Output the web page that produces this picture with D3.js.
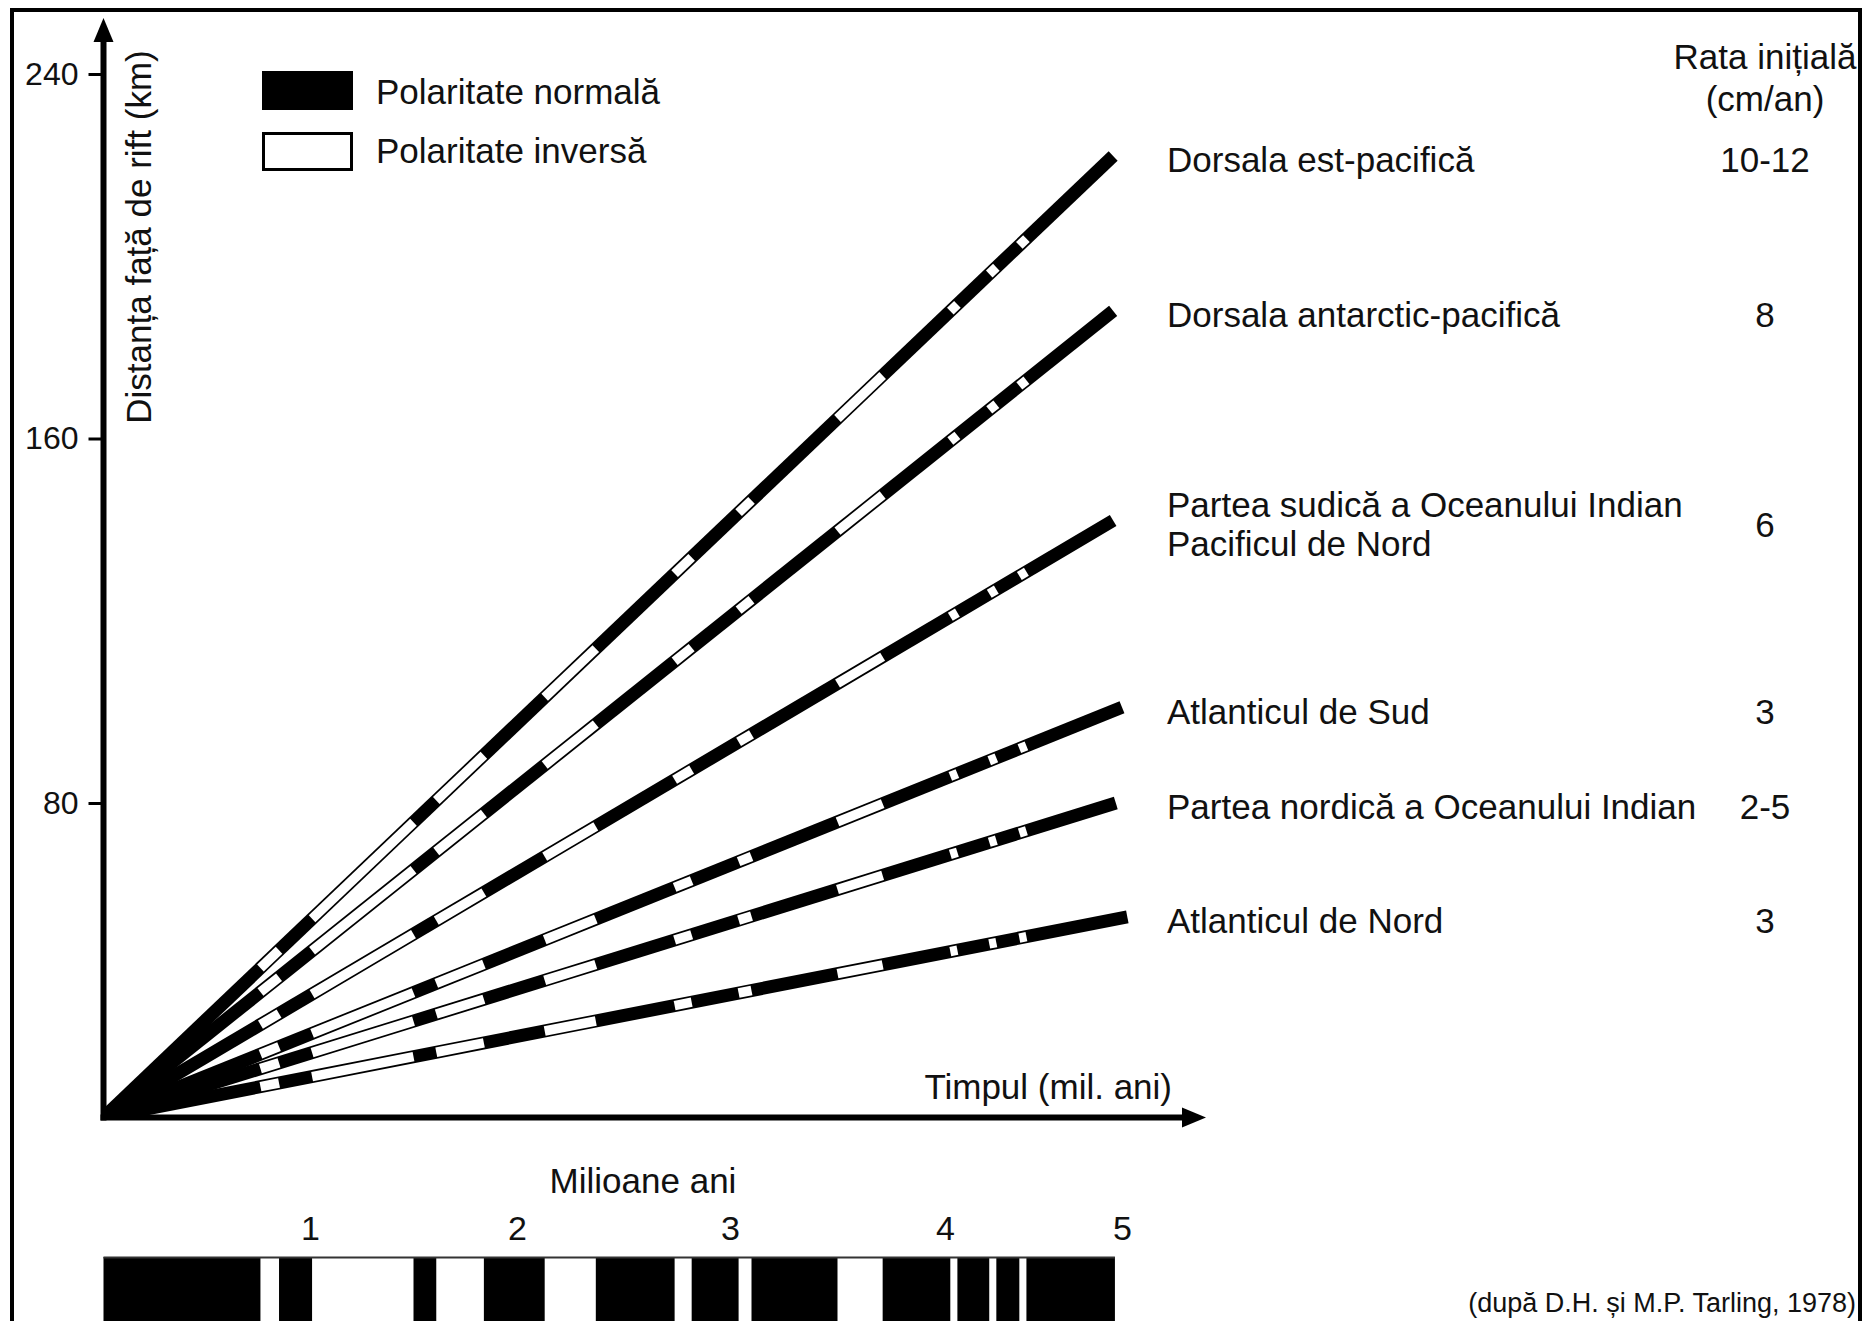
<!DOCTYPE html>
<html lang="ro">
<head>
<meta charset="UTF-8">
<title>Distanța față de rift</title>
<script src="https://cdn.jsdelivr.net/npm/d3@7"></script>
<style>
    body { margin: 0; background: #fff; }
    svg text { font-family: "Liberation Sans", Arial, Helvetica, sans-serif; fill: #111; }
    .axis path { display: none; }
    .axis line { stroke: #000; stroke-width: 3; }
    .axis text { font-size: 32px; fill: #111; }
    .taxis text { font-size: 34px; fill: #111; }
    .lbl { font-size: 35px; }
</style>
</head>
<body>
<script>
const width = 1866, height = 1321;

// valori
const ridgeNames = [
    ['Dorsala est-pacifică'],
    ['Dorsala antarctic-pacifică'],
    ['Partea sudică a Oceanului Indian', 'Pacificul de Nord'],
    ['Atlanticul de Sud'],
    ['Partea nordică a Oceanului Indian'],
    ['Atlanticul de Nord']
];
const ridgeRates = ['10-12', '8', '6', '3', '2-5', '3'];
const endTime = [4.95, 4.95, 4.95, 5.0, 4.965, 5.03];     // mil. ani
const endDistance = [222, 188, 142, 101, 80, 55];          // km
const originKm = 11;                                        // axa orizontala taie axa Y aici
const distTicks = [80, 160, 240];
const timeTicks = [1, 2, 3, 4, 5];
// intervale cu polaritate inversa (mil. ani)
const reversed = [[0.76, 0.85], [1.01, 1.50], [1.61, 1.84], [2.13, 2.37], [2.74, 2.82],
                  [3.04, 3.10], [3.50, 3.71], [4.03, 4.07], [4.25, 4.29], [4.42, 4.46]];
const barEnd = 4.96;

let svg = d3.select('body').append('svg')
    .attr('width', width)
    .attr('height', height);

// scari
let x = d3.scaleLinear()
    .domain([0, 1, 2, 3, 4, 5])
    .range([103.5, 310, 517, 730, 945, 1122]);
let y = d3.scaleLinear()
    .domain([0, 240])
    .range([1167.5, 74]);

let x0 = x(0), y0 = y(originKm);

// chenar
svg.append('rect')
    .attr('x', 12).attr('y', 10)
    .attr('width', 1848).attr('height', 1400)
    .attr('fill', 'none').attr('stroke', '#000').attr('stroke-width', 4);

// linii (benzi) pentru fiecare dorsala
svg.append('clipPath').attr('id', 'plot')
    .append('rect').attr('x', x0).attr('y', 0).attr('width', 1200).attr('height', y0);

let bands = svg.append('g').attr('clip-path', 'url(#plot)');

ridgeNames.forEach(function (name, i) {
    let xe = x(endTime[i]), ye = y(endDistance[i]);
    function pt(t) {
        let u = (x(t) - x0) / (xe - x0);
        return [x(t), y0 + u * (ye - y0)];
    }
    let a = pt(0), b = pt(endTime[i]);
    bands.append('line')
        .attr('x1', a[0]).attr('y1', a[1]).attr('x2', b[0]).attr('y2', b[1])
        .attr('stroke', '#000').attr('stroke-width', 13);
    reversed.filter(function (r) { return r[0] < endTime[i]; }).forEach(function (r) {
        let p = pt(r[0]), q = pt(Math.min(r[1], endTime[i]));
        bands.append('line')
            .attr('x1', p[0]).attr('y1', p[1]).attr('x2', q[0]).attr('y2', q[1])
            .attr('stroke', '#fff').attr('stroke-width', 9.5);
    });

    // etichete
    let ly = ye + 4;
    let t = svg.append('text').attr('class', 'lbl')
        .attr('x', 1167)
        .attr('y', ly - (name.length - 1) * 20)
        .attr('dy', '0.35em');
    name.forEach(function (s, k) {
        t.append('tspan').attr('x', 1167).attr('dy', k === 0 ? '0.35em' : '1.13em').text(s);
    });
    svg.append('text').attr('class', 'lbl')
        .attr('x', 1765).attr('y', ly)
        .attr('dy', '0.35em')
        .attr('text-anchor', 'middle')
        .text(ridgeRates[i]);
});

// axe
svg.append('line')
    .attr('x1', x0).attr('y1', y0 + 3).attr('x2', x0).attr('y2', 38)
    .attr('stroke', '#000').attr('stroke-width', 6);
svg.append('path')
    .attr('d', 'M' + x0 + ',18 L' + (x0 - 10) + ',42 L' + (x0 + 10) + ',42 Z')
    .attr('fill', '#000');
svg.append('line')
    .attr('x1', x0 - 3).attr('y1', y0).attr('x2', 1188).attr('y2', y0)
    .attr('stroke', '#000').attr('stroke-width', 6);
svg.append('path')
    .attr('d', 'M1206,' + y0 + ' L1182,' + (y0 - 10) + ' L1182,' + (y0 + 10) + ' Z')
    .attr('fill', '#000');

svg.append('g')
    .attr('class', 'axis')
    .attr('transform', 'translate(' + x0 + ',0)')
    .call(d3.axisLeft(y).tickValues(distTicks).tickSize(15).tickPadding(10));

svg.append('text').attr('class', 'lbl')
    .attr('transform', 'translate(139,237) rotate(-90)')
    .attr('text-anchor', 'middle')
    .attr('dy', '0.35em')
    .text('Distanța față de rift (km)');

svg.append('text').attr('class', 'lbl')
    .attr('x', 1172).attr('y', 1087).attr('dy', '0.35em')
    .attr('text-anchor', 'end')
    .text('Timpul (mil. ani)');

// legenda
svg.append('rect').attr('x', 262).attr('y', 71).attr('width', 91).attr('height', 39).attr('fill', '#000');
svg.append('rect').attr('x', 263.5).attr('y', 133.5).attr('width', 88).attr('height', 36)
    .attr('fill', '#fff').attr('stroke', '#000').attr('stroke-width', 3);
svg.append('text').attr('class', 'lbl').attr('x', 376).attr('y', 92).attr('dy', '0.35em').text('Polaritate normală');
svg.append('text').attr('class', 'lbl').attr('x', 376).attr('y', 151).attr('dy', '0.35em').text('Polaritate inversă');

// antet coloana
svg.append('text').attr('class', 'lbl').attr('x', 1765).attr('y', 57).attr('dy', '0.35em')
    .attr('text-anchor', 'middle').text('Rata inițială');
svg.append('text').attr('class', 'lbl').attr('x', 1765).attr('y', 99).attr('dy', '0.35em')
    .attr('text-anchor', 'middle').text('(cm/an)');

// scara polaritatii
svg.append('text').attr('class', 'lbl')
    .attr('x', 643).attr('y', 1181).attr('dy', '0.35em')
    .attr('text-anchor', 'middle').text('Milioane ani');

svg.append('g')
    .attr('class', 'axis taxis')
    .attr('transform', 'translate(0,1240)')
    .call(d3.axisTop(x).tickValues(timeTicks).tickFormat(d3.format('d')).tickSize(0).tickPadding(0));

svg.append('rect')
    .attr('x', x(0)).attr('y', 1257)
    .attr('width', x(barEnd) - x(0)).attr('height', 100)
    .attr('fill', '#000');
svg.selectAll('rect.rev')
    .data(reversed)
    .enter()
    .append('rect')
    .attr('class', 'rev')
    .attr('x', function (d) { return x(d[0]); })
    .attr('y', 1258)
    .attr('width', function (d) { return x(d[1]) - x(d[0]); })
    .attr('height', 100)
    .attr('fill', '#fff');
svg.append('line')
    .attr('x1', x(0)).attr('y1', 1257.5).attr('x2', x(barEnd)).attr('y2', 1257.5)
    .attr('stroke', '#333').attr('stroke-width', 2);

svg.append('text')
    .attr('x', 1856).attr('y', 1303).attr('dy', '0.35em')
    .attr('text-anchor', 'end')
    .style('font-size', '27px')
    .text('(după D.H. și M.P. Tarling, 1978)');
</script>
</body>
</html>
